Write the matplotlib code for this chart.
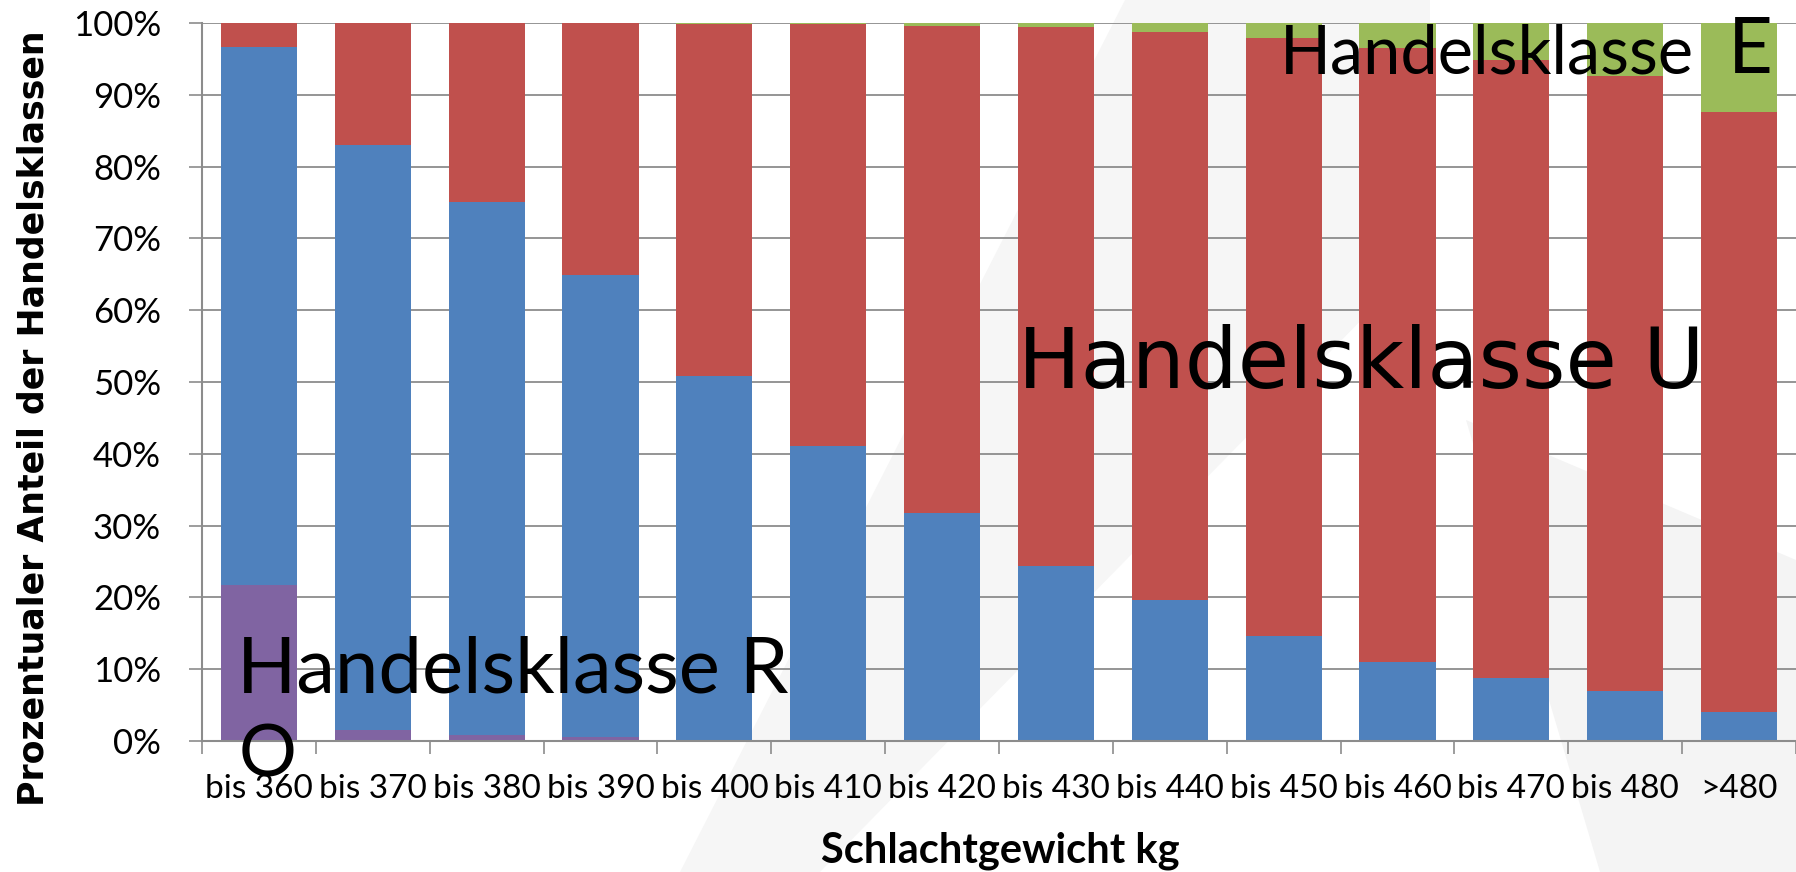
import matplotlib

matplotlib.use('Agg')
import matplotlib.pyplot as plt
import numpy as np
from matplotlib.patches import Polygon

# Gewichtsklassen und Anteile der Handelsklassen (in Prozent)
categories = ['bis 360', 'bis 370', 'bis 380', 'bis 390', 'bis 400', 'bis 410', 'bis 420',
              'bis 430', 'bis 440', 'bis 450', 'bis 460', 'bis 470', 'bis 480', '>480']
klasse_o = [21.7, 1.5, 0.9, 0.5, 0.0, 0.0, 0.0, 0.0, 0.0, 0.0, 0.0, 0.0, 0.0, 0.0]
klasse_r = [74.9, 81.5, 74.1, 64.4, 50.8, 41.1, 31.7, 24.4, 19.7, 14.6, 11.0, 8.8, 6.9, 4.1]
klasse_u = [3.4, 17.0, 25.0, 35.1, 49.1, 58.7, 67.9, 75.0, 79.1, 83.3, 85.5, 86.0, 85.7, 83.5]
klasse_e = [0.0, 0.0, 0.0, 0.0, 0.1, 0.2, 0.4, 0.6, 1.2, 2.1, 3.5, 5.2, 7.4, 12.4]

W, H = 1796, 872
label_font = ['Lato', 'DejaVu Sans']
grau = '#8c8c8c'

fig = plt.figure(figsize=(W / 100, H / 100), dpi=100)

# blasses Wasserzeichen im Hintergrund
bg = fig.add_axes([0, 0, 1, 1], zorder=-1)
bg.set_xlim(0, W)
bg.set_ylim(H, 0)
bg.axis('off')
bg.add_patch(Polygon([(1125, 0), (1430, 0), (1430, 250), (820, 872), (680, 872)],
                     closed=True, color='#f6f6f6', lw=0))
bg.add_patch(Polygon([(1466, 420), (1796, 560), (1796, 872), (1600, 872)],
                     closed=True, color='#f4f4f4', lw=0))

ax = fig.add_axes([202 / W, 1 - 741 / H, (W - 202) / W, (741 - 23) / H])
ax.patch.set_alpha(0)

x = np.arange(len(categories))
o = np.array(klasse_o) / 100
r = np.array(klasse_r) / 100
u = np.array(klasse_u) / 100
e = np.array(klasse_e) / 100
breite = 0.67
ax.bar(x, o, breite, color='#8064A2', zorder=2)
ax.bar(x, r, breite, bottom=o, color='#4F81BD', zorder=2)
ax.bar(x, u, breite, bottom=o + r, color='#C0504D', zorder=2)
ax.bar(x, e, breite, bottom=o + r + u, color='#9BBB59', zorder=2)

ax.set_xlim(-0.5, len(categories) - 0.5)
ax.set_ylim(0, 1)
ax.set_yticks(np.arange(0, 1.01, 0.1))
ax.set_yticklabels([f'{int(round(v * 100))}%' for v in np.arange(0, 1.01, 0.1)],
                   family=label_font, fontsize=25)
ax.yaxis.grid(True, color=grau, lw=1.3, zorder=0)
ax.set_axisbelow(True)

ax.set_xticks(np.arange(-0.5, len(categories), 1))
ax.set_xticklabels([])
ax.set_xticks(x, minor=True)
ax.set_xticklabels(categories, minor=True, family=label_font, fontsize=24)
ax.tick_params(axis='x', which='major', length=9.5, color=grau, width=1.2)
ax.tick_params(axis='x', which='minor', length=0, pad=24)
ax.tick_params(axis='y', length=9.5, color=grau, width=1.2, pad=20)

for s in ['top', 'right']:
    ax.spines[s].set_visible(False)
for s in ['left', 'bottom']:
    ax.spines[s].set_color(grau)
    ax.spines[s].set_linewidth(1.5)

fig.text(34 / W, 1 - 418 / H, 'Prozentualer Anteil der Handelsklassen', rotation=90,
         ha='center', va='center', fontsize=25, fontweight='bold', family='DejaVu Sans')
fig.text(1000 / W, 1 - 862 / H, 'Schlachtgewicht kg', ha='center', va='baseline',
         fontsize=30, fontweight='bold', family=label_font)

# Beschriftungen der Handelsklassen
fig.text(237 / W, 1 - 692 / H, 'Handelsklasse R', ha='left', va='baseline',
         fontsize=56, family=label_font)
fig.text(239 / W, 1 - 776 / H, 'O', ha='left', va='baseline', fontsize=52, family=label_font)
fig.text(1018 / W, 1 - 388 / H, 'Handelsklasse U', ha='left', va='baseline',
         fontsize=60, family='DejaVu Sans')
fig.text(1280 / W, 1 - 73 / H, 'Handelsklasse', ha='left', va='baseline',
         fontsize=48, family=label_font)
fig.text(1728 / W, 1 - 73 / H, 'E', ha='left', va='baseline', fontsize=56, family=label_font)

plt.savefig('out.png', dpi=100)
plt.close()
